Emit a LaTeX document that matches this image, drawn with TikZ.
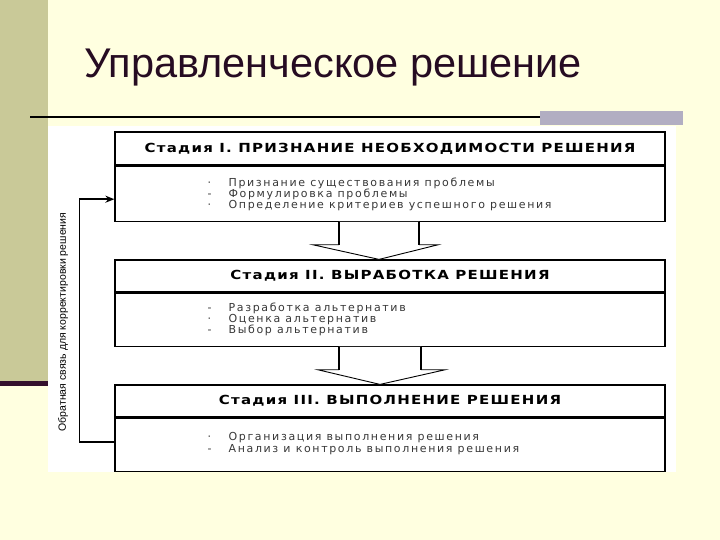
\documentclass[tikz,border=0pt]{standalone}
\usepackage{fontspec}
\setmainfont{Liberation Sans}
\newfontfamily\headfont{DejaVu Sans}[LetterSpace=10,FakeStretch=1.2]
\newfontfamily\itemfont{DejaVu Sans}[LetterSpace=15]
\usetikzlibrary{arrows.meta,positioning,calc}
\definecolor{slidebg}{RGB}{255,255,224}
\definecolor{slidebar}{RGB}{201,201,152}
\definecolor{slideplum}{RGB}{52,16,44}
\definecolor{rulegray}{RGB}{178,174,194}
\definecolor{titleink}{RGB}{38,12,34}

\begin{document}
\begin{tikzpicture}[x=1pt,y=1pt,line join=miter,
  stagehead/.style={draw,line width=1.2pt,minimum width=550pt,minimum height=33pt,inner sep=0pt,
    font=\headfont\bfseries\fontsize{12.5}{14}\selectfont},
  stagebody/.style={draw,line width=1.2pt,minimum width=550pt,inner sep=0pt},
  itemlist/.style={align=left,inner sep=0pt,text=black!78,font=\itemfont\fontsize{11}{11.3}\selectfont},
  arrowshaft/.style={line width=1.8pt},
  arrowhead/.style={line width=0.9pt},
  feedback/.style={line width=1.6pt,-{Stealth[length=9pt,width=7pt]}}]
\useasboundingbox (0,0) rectangle (720,540);
% slide background
\fill[slidebg] (0,0) rectangle (720,540);
\fill[slidebar] (0,157) rectangle (48,540);
\fill[slideplum] (0,154) rectangle (48,159);
\node[anchor=base west,font=\fontsize{41.5}{45}\selectfont,text=titleink,inner sep=0pt] (title) at (84,462) {Управленческое решение};
\draw[line width=2pt,black] (30,423) -- (545,423);
\fill[rulegray] (540,415) rectangle (683,429);
% scanned scheme
\fill[white] (48,68) rectangle (676,414);
\node[stagehead] (head1) at (390,391.5) {Стадия I. ПРИЗНАНИЕ НЕОБХОДИМОСТИ РЕШЕНИЯ};
\node[stagebody,minimum height=55pt,anchor=north] (body1) at (head1.south) {};
\node[itemlist,anchor=north west] (list1) at ($(body1.north west)+(93,-12)$)
  {\makebox[21pt][l]{·}Признание существования проблемы\\
   \makebox[21pt][l]{-}Формулировка проблемы\\
   \makebox[21pt][l]{·}Определение критериев успешного решения};
\node[stagehead,minimum height=32pt] (head2) at (390,264) {Стадия II. ВЫРАБОТКА РЕШЕНИЯ};
\node[stagebody,minimum height=53pt,anchor=north] (body2) at (head2.south) {};
\node[itemlist,anchor=north west] (list2) at ($(body2.north west)+(93,-10)$)
  {\makebox[21pt][l]{-}Разработка альтернатив\\
   \makebox[21pt][l]{·}Оценка альтернатив\\
   \makebox[21pt][l]{-}Выбор альтернатив};
\node[stagehead,minimum height=32pt] (head3) at (390,139) {Стадия III. ВЫПОЛНЕНИЕ РЕШЕНИЯ};
\node[stagebody,minimum height=53pt,anchor=north] (body3) at (head3.south) {};
\node[itemlist,anchor=north west] (list3) at ($(body3.north west)+(93,-15)$)
  {\makebox[21pt][l]{·}Организация выполнения решения\\
   \makebox[21pt][l]{-}Анализ и контроль выполнения решения};
% hollow arrows between stages
\coordinate (a1) at ($(body1.south)+(-11,0)$);
\fill[white] ($(a1)+(-40,0)$) -- ($(a1)+(-40,-23)$) -- ($(a1)+(-66,-23)$) -- (a1 |- head2.north)
  -- ($(a1)+(59,-23)$) -- ($(a1)+(40,-23)$) -- ($(a1)+(40,0)$) -- cycle;
\draw[arrowshaft] ($(a1)+(-40,0)$) -- ($(a1)+(-40,-23)$);
\draw[arrowshaft] ($(a1)+(40,0)$) -- ($(a1)+(40,-23)$);
\draw[arrowhead] ($(a1)+(-40,-23)$) -- ($(a1)+(-66,-23)$) -- (a1 |- head2.north)
  -- ($(a1)+(59,-23)$) -- ($(a1)+(40,-23)$);
\coordinate (a2) at ($(body2.south)+(-10,0)$);
\fill[white] ($(a2)+(-41,0)$) -- ($(a2)+(-41,-23)$) -- ($(a2)+(-62,-23)$) -- (a2 |- head3.north)
  -- ($(a2)+(65,-23)$) -- ($(a2)+(41,-23)$) -- ($(a2)+(41,0)$) -- cycle;
\draw[arrowshaft] ($(a2)+(-41,0)$) -- ($(a2)+(-41,-23)$);
\draw[arrowshaft] ($(a2)+(41,0)$) -- ($(a2)+(41,-23)$);
\draw[arrowhead] ($(a2)+(-41,-23)$) -- ($(a2)+(-62,-23)$) -- (a2 |- head3.north)
  -- ($(a2)+(65,-23)$) -- ($(a2)+(41,-23)$);
% feedback loop
\draw[feedback] ($(body3.west)+(0,2.5)$) -- ++(-35,0) |- ($(body1.west)+(0,-5.5)$);
\node[rotate=90,font=\fontsize{10.5}{12}\selectfont,inner sep=0pt] (fbtext) at (63,218) {Обратная связь для корректировки решения};
\end{tikzpicture}
\end{document}
